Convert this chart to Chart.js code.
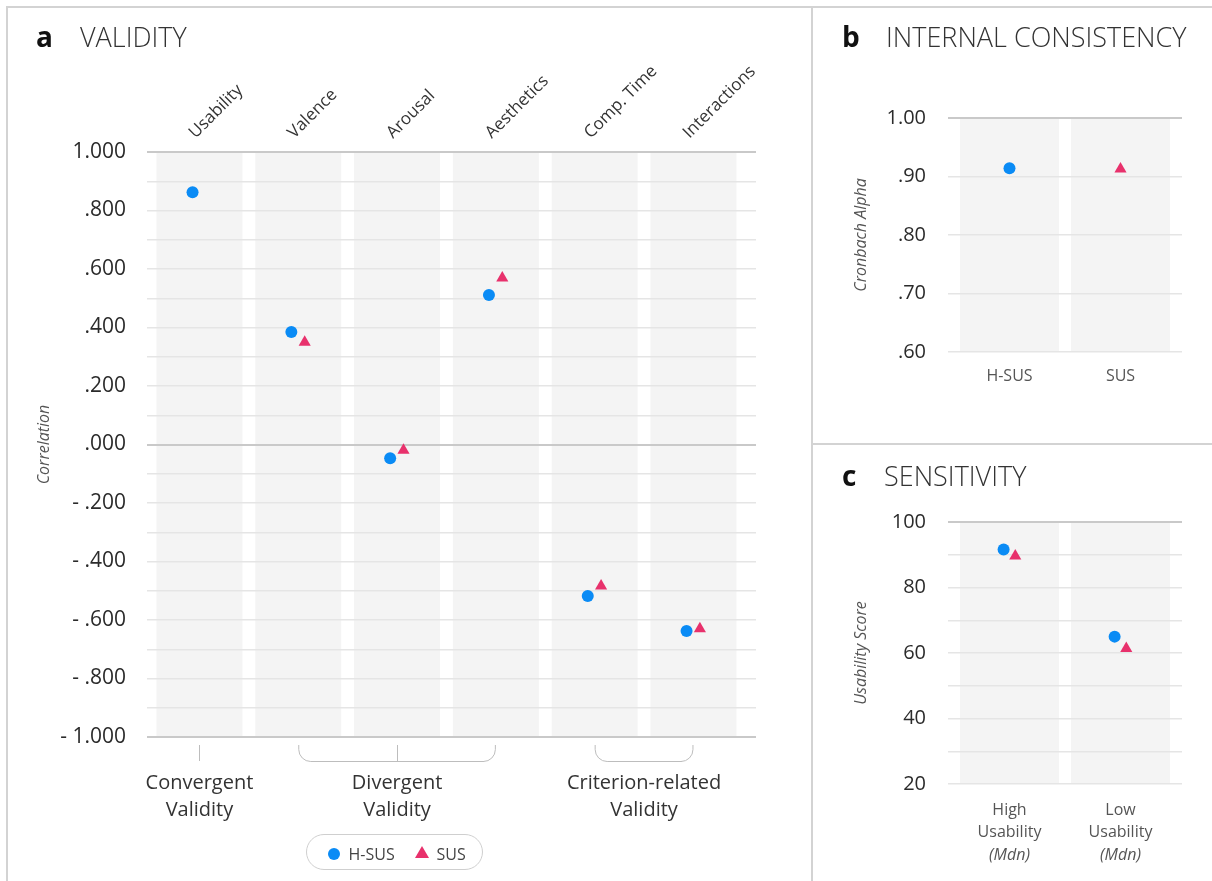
<!DOCTYPE html>
<html>
<head>
<meta charset="utf-8">
<script src="https://cdn.jsdelivr.net/npm/chart.js@4.4.1/dist/chart.umd.min.js"></script>
<style>
html,body{margin:0;padding:0;background:#fff;}
#page{position:relative;width:1212px;height:881px;overflow:hidden;background:#fff;font-family:'Open Sans',sans-serif;}
#page canvas{position:absolute;left:0;top:0;}
.rule{position:absolute;background:#d3d3d3;}
.title{position:absolute;font-size:27px;line-height:27px;color:#333;font-weight:300;white-space:nowrap;}
.letter{position:absolute;font-size:28px;line-height:28px;color:#111;font-weight:700;}
#legend{position:absolute;left:306px;top:834px;width:175px;height:34px;border:1.5px solid #cfcfcf;border-radius:19px;background:#fff;}
.lg-dot{position:absolute;left:20.5px;top:12.5px;width:12px;height:12px;border-radius:50%;background:#0a8bf5;}
.lg-tri{position:absolute;left:107.5px;top:11px;width:0;height:0;border-left:7px solid transparent;border-right:7px solid transparent;border-bottom:12px solid #e8316c;}
.lg-txt{position:absolute;top:1.5px;line-height:34px;font-size:16px;color:#444;white-space:nowrap;}
</style>
</head>
<body>
<div id="page">
  <canvas id="chartA" width="1212" height="881"></canvas>
  <canvas id="chartB" width="1212" height="881"></canvas>
  <canvas id="chartC" width="1212" height="881"></canvas>

  <div class="rule" style="left:6px;top:6px;width:1206px;height:2px;"></div>
  <div class="rule" style="left:6px;top:6px;width:2px;height:875px;"></div>
  <div class="rule" style="left:811px;top:6px;width:2px;height:875px;"></div>
  <div class="rule" style="left:811px;top:443px;width:401px;height:2px;"></div>

  <div class="letter" style="left:36px;top:22px;">a</div>
  <div class="title" style="left:80px;top:23px;">VALIDITY</div>
  <div class="letter" style="left:842px;top:22px;">b</div>
  <div class="title" style="left:886px;top:23px;">INTERNAL CONSISTENCY</div>
  <div class="letter" style="left:842px;top:461px;">c</div>
  <div class="title" style="left:884px;top:462px;">SENSITIVITY</div>

  <div id="legend">
    <span class="lg-dot"></span><span class="lg-txt" id="lgA" style="left:41.5px;"></span>
    <span class="lg-tri"></span><span class="lg-txt" id="lgB" style="left:129.5px;"></span>
  </div>
</div>
<script>
// ---------- data ----------
const seriesNames = ['H-SUS', 'SUS'];

const validityCategories = ['Usability', 'Valence', 'Arousal', 'Aesthetics', 'Comp. Time', 'Interactions'];
const validityHSUS = [0.862, 0.385, -0.047, 0.511, -0.518, -0.638];
const validitySUS = [null, 0.350, -0.020, 0.569, -0.484, -0.630];
const validityTickLabels = ['1.000', '.800', '.600', '.400', '.200', '.000', '- .200', '- .400', '- .600', '- .800', '- 1.000'];
const validityGroups = [['Convergent', 'Validity'], ['Divergent', 'Validity'], ['Criterion-related', 'Validity']];
const validityGroupSpans = [[0, 0], [1, 3], [4, 5]];

const consistencyCategories = ['H-SUS', 'SUS'];
const consistencyAlpha = [0.914, 0.913];
const consistencyTickLabels = ['1.00', '.90', '.80', '.70', '.60'];

const sensitivityCategories = [['High', 'Usability'], ['Low', 'Usability']];
const sensitivityNotes = ['(Mdn)', '(Mdn)'];
const sensitivityHSUS = [91.6, 65.0];
const sensitivitySUS = [89.6, 61.4];
const sensitivityTickLabels = ['100', '80', '60', '40', '20'];

// ---------- styles ----------
const BLUE = '#0a8bf5';
const PINK = '#e8316c';
const BAND = '#f4f4f4';
const GRID_MINOR = '#e5e5e5';
const GRID_MAJOR = '#c9c9c9';
const FONT = "'Open Sans', sans-serif";

document.getElementById('lgA').textContent = seriesNames[0];
document.getElementById('lgB').textContent = seriesNames[1];

function bandPlugin(count, half) {
  return {
    id: 'bands',
    beforeDraw(chart) {
      const {ctx, chartArea: a, scales: {x}} = chart;
      ctx.save();
      ctx.fillStyle = BAND;
      for (let i = 0; i < count; i++) {
        const l = x.getPixelForValue(i - half), r = x.getPixelForValue(i + half);
        ctx.fillRect(l, a.top, r - l, a.bottom - a.top);
      }
      ctx.restore();
    }
  };
}

function yTitle(text) {
  return {display: true, text, color: '#555', padding: 0,
    font: {family: FONT, size: 16, style: 'italic', lineHeight: 1.2}};
}

function dsStyle(idx) {
  return idx === 0
    ? {pointStyle: 'circle', pointRadius: 6, pointHoverRadius: 6, backgroundColor: BLUE, borderWidth: 0}
    : {pointStyle: 'triangle', pointRadius: 7, pointHoverRadius: 7, backgroundColor: PINK, borderWidth: 0};
}

const common = {
  responsive: false,
  animation: false,
  events: [],
  plugins: {legend: {display: false}, tooltip: {enabled: false}}
};

// ---------- panel a ----------
const aOffsets = [-0.07, 0.065];
function toPts(vals, off) {
  return vals.map((v, i) => (v === null ? null : {x: i + off, y: v})).filter(p => p !== null);
}

const aLabelsPlugin = {
  id: 'aLabels',
  afterDraw(chart) {
    const {ctx, chartArea: a, scales: {x}} = chart;
    ctx.save();
    ctx.fillStyle = '#333';
    ctx.font = "17px " + FONT;
    ctx.textAlign = 'left';
    ctx.textBaseline = 'alphabetic';
    validityCategories.forEach((c, i) => {
      ctx.save();
      ctx.translate(x.getPixelForValue(i) - 4, a.top - 13);
      ctx.rotate(-Math.PI / 4);
      ctx.fillText(c, 0, 0);
      ctx.restore();
    });
    // group labels and brackets
    ctx.font = "20px " + FONT;
    ctx.textAlign = 'center';
    ctx.strokeStyle = '#bdbdbd';
    ctx.lineWidth = 1;
    const top = a.bottom + 8, bot = a.bottom + 24, r = 12;
    validityGroups.forEach((lines, g) => {
      const [from, to] = validityGroupSpans[g];
      const l = x.getPixelForValue(from), rr = x.getPixelForValue(to);
      const cx = (l + rr) / 2;
      lines.forEach((t, j) => ctx.fillText(t, cx, a.bottom + 52 + j * 27));
      if (to > from) {
        ctx.beginPath();
        ctx.moveTo(l + 0.5, top);
        ctx.arcTo(l + 0.5, bot + 0.5, l + r, bot + 0.5, r);
        ctx.lineTo(rr - r, bot + 0.5);
        ctx.arcTo(rr - 0.5, bot + 0.5, rr - 0.5, top, r);
        ctx.lineTo(rr - 0.5, top);
        ctx.stroke();
      }
      if ((to - from) % 2 === 0) {
        const m = Math.round(x.getPixelForValue((from + to) / 2)) + 0.5;
        ctx.beginPath();
        ctx.moveTo(m, top);
        ctx.lineTo(m, bot);
        ctx.stroke();
      }
    });
    ctx.restore();
  }
};

new Chart(document.getElementById('chartA'), {
  type: 'scatter',
  data: {
    datasets: [
      Object.assign({label: seriesNames[0], data: toPts(validityHSUS, aOffsets[0])}, dsStyle(0)),
      Object.assign({label: seriesNames[1], data: toPts(validitySUS, aOffsets[1])}, dsStyle(1))
    ]
  },
  options: Object.assign({}, common, {
    layout: {padding: {left: 35, top: 152, right: 456, bottom: 144}},
    scales: {
      x: {type: 'linear', display: false, min: -0.531, max: 5.633},
      y: {
        type: 'linear', min: -1, max: 1,
        afterFit: s => { s.width = 112; },
        border: {display: false},
        grid: {
          drawTicks: false,
          color: c => { const k = Math.round(c.tick.value * 10); return (k === 10 || k === 0 || k === -10) ? GRID_MAJOR : GRID_MINOR; },
          lineWidth: c => { const k = Math.round(c.tick.value * 10); return (k === 10 || k === 0 || k === -10) ? 2 : 1.5; }
        },
        ticks: {
          stepSize: 0.1, padding: 21, color: '#2b2b2b',
          font: {family: FONT, size: 21},
          callback: v => { const k = Math.round(v * 10); return k % 2 === 0 ? validityTickLabels[(10 - k) / 2] : ''; }
        },
        title: yTitle('Correlation')
      }
    }
  }),
  plugins: [bandPlugin(validityCategories.length, 0.435), aLabelsPlugin]
});

// ---------- panel b ----------
new Chart(document.getElementById('chartB'), {
  type: 'scatter',
  data: {
    datasets: [
      Object.assign({label: seriesNames[0], data: [{x: 0, y: consistencyAlpha[0]}]}, dsStyle(0)),
      Object.assign({label: seriesNames[1], data: [{x: 1, y: consistencyAlpha[1]}]}, dsStyle(1))
    ]
  },
  options: Object.assign({}, common, {
    layout: {padding: {left: 852, top: 118, right: 30, bottom: 469}},
    scales: {
      x: {
        type: 'linear', min: -0.554, max: 1.554,
        afterBuildTicks: s => { s.ticks = consistencyCategories.map((c, i) => ({value: i})); },
        afterFit: s => { s.height = 60; },
        border: {display: false},
        grid: {display: false, drawTicks: false},
        ticks: {
          autoSkip: false, maxRotation: 0, minRotation: 0, padding: 14.4, color: '#555',
          font: {family: FONT, size: 16, lineHeight: 1.2},
          callback: v => consistencyCategories[v]
        }
      },
      y: {
        type: 'linear', min: 0.6, max: 1.0,
        afterFit: s => { s.width = 96; },
        border: {display: false},
        grid: {
          drawTicks: false,
          color: c => (Math.round(c.tick.value * 10) === 10 ? GRID_MAJOR : GRID_MINOR),
          lineWidth: c => (Math.round(c.tick.value * 10) === 10 ? 2 : 1.5)
        },
        ticks: {
          stepSize: 0.1, padding: 22, color: '#2b2b2b',
          font: {family: FONT, size: 20},
          callback: v => consistencyTickLabels[10 - Math.round(v * 10)]
        },
        title: yTitle('Cronbach Alpha')
      }
    }
  }),
  plugins: [bandPlugin(consistencyCategories.length, 0.446)]
});

// ---------- panel c ----------
const cOffsets = [-0.053, 0.052];
const cNotesPlugin = {
  id: 'cNotes',
  afterDraw(chart) {
    const {ctx, chartArea: a, scales: {x}} = chart;
    ctx.save();
    ctx.fillStyle = '#555';
    ctx.font = "italic 16px " + FONT;
    ctx.textAlign = 'center';
    ctx.textBaseline = 'middle';
    sensitivityNotes.forEach((t, i) => ctx.fillText(t, x.getPixelForValue(i), a.bottom + 71.5));
    ctx.restore();
  }
};

new Chart(document.getElementById('chartC'), {
  type: 'scatter',
  data: {
    datasets: [
      Object.assign({label: seriesNames[0], data: toPts(sensitivityHSUS, cOffsets[0])}, dsStyle(0)),
      Object.assign({label: seriesNames[1], data: toPts(sensitivitySUS, cOffsets[1])}, dsStyle(1))
    ]
  },
  options: Object.assign({}, common, {
    layout: {padding: {left: 852, top: 522, right: 30, bottom: 17}},
    scales: {
      x: {
        type: 'linear', min: -0.554, max: 1.554,
        afterBuildTicks: s => { s.ticks = sensitivityCategories.map((c, i) => ({value: i})); },
        afterFit: s => { s.height = 80; },
        border: {display: false},
        grid: {display: false, drawTicks: false},
        ticks: {
          autoSkip: false, maxRotation: 0, minRotation: 0, padding: 15, color: '#555',
          font: {family: FONT, size: 16, lineHeight: 1.4},
          callback: v => sensitivityCategories[v]
        }
      },
      y: {
        type: 'linear', min: 20, max: 100,
        afterFit: s => { s.width = 96; },
        border: {display: false},
        grid: {
          drawTicks: false,
          color: c => (c.tick.value === 100 ? GRID_MAJOR : GRID_MINOR),
          lineWidth: c => (c.tick.value === 100 ? 2 : 1.5)
        },
        ticks: {
          stepSize: 10, padding: 22, color: '#2b2b2b',
          font: {family: FONT, size: 20},
          callback: v => (v % 20 === 0 ? sensitivityTickLabels[(100 - v) / 20] : '')
        },
        title: yTitle('Usability Score')
      }
    }
  }),
  plugins: [bandPlugin(sensitivityCategories.length, 0.446), cNotesPlugin]
});
</script>
</body>
</html>
